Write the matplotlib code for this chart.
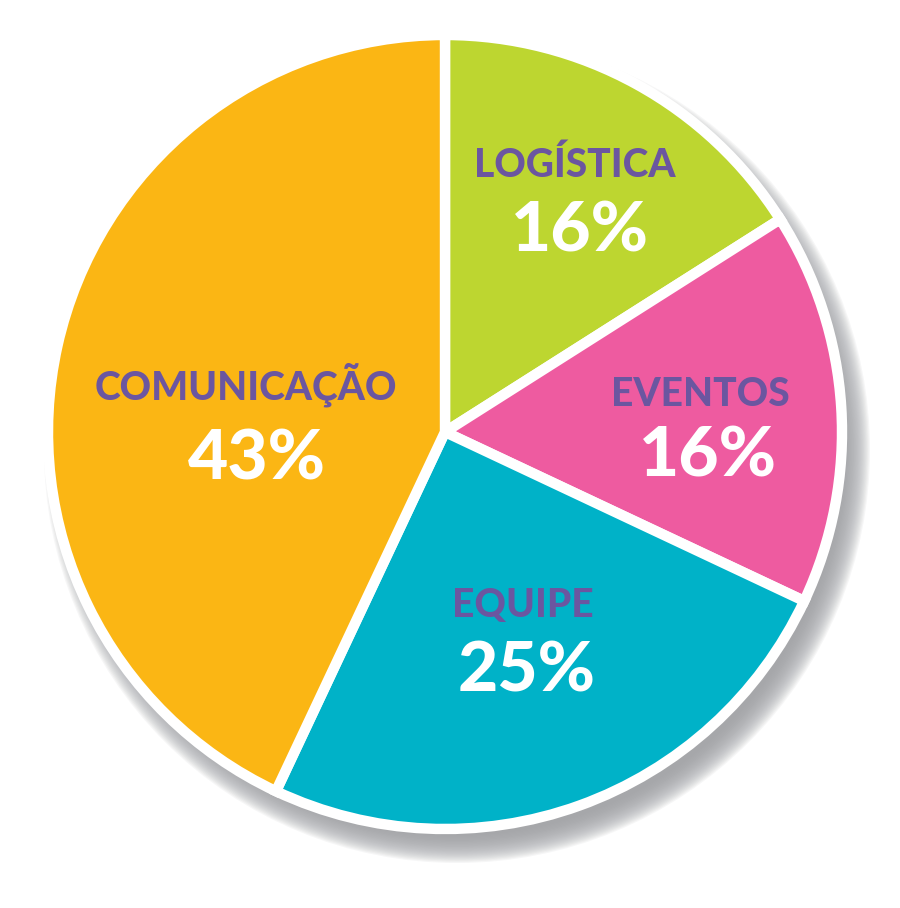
import matplotlib.pyplot as plt
from matplotlib.patches import Circle

categories = ['LOGÍSTICA', 'EVENTOS', 'EQUIPE', 'COMUNICAÇÃO']
values = [16, 16, 25, 43]
colors = ['#BDD630', '#EE5BA0', '#00B2C8', '#FBB614']
# label positions in pixels (image coords, y from top)
label_pos = [(575, 165), (700, 395), (523, 605), (246, 385)]
pct_pos = [(580, 232), (708, 457), (527, 672), (257, 460)]

W, H = 900, 908
fig = plt.figure(figsize=(9, 9.08), dpi=100)
ax = fig.add_axes([0, 0, 1, 1])
ax.set_xlim(0, W)
ax.set_ylim(0, H)
ax.set_aspect('equal')
ax.axis('off')

cx, cy, r = 445, H - 432, 397

# soft shadow to lower right
n = 24
for i in range(n):
    rr = r + 16 - i * 1.2
    ax.add_patch(Circle((cx + 12, cy - 18), rr, color='#A0A2A5', alpha=0.09, lw=0, zorder=0))

ax.pie(values, colors=colors, startangle=90, counterclock=False,
       center=(cx, cy), radius=r,
       wedgeprops=dict(edgecolor='white', linewidth=7.5), frame=True)
ax.set_xlim(0, W)
ax.set_ylim(0, H)
ax.axis('off')

for cat, v, (lx, ly), (px, py) in zip(categories, values, label_pos, pct_pos):
    ax.text(lx, H - ly, cat, ha='center', va='center', fontsize=28,
            fontweight='black', color='#6B56A0', family='Lato')
    ax.text(px, H - py, f'{v}%', ha='center', va='center', fontsize=50,
            fontweight='black', color='white', family='Lato')

fig.savefig('out.png', dpi=100)
